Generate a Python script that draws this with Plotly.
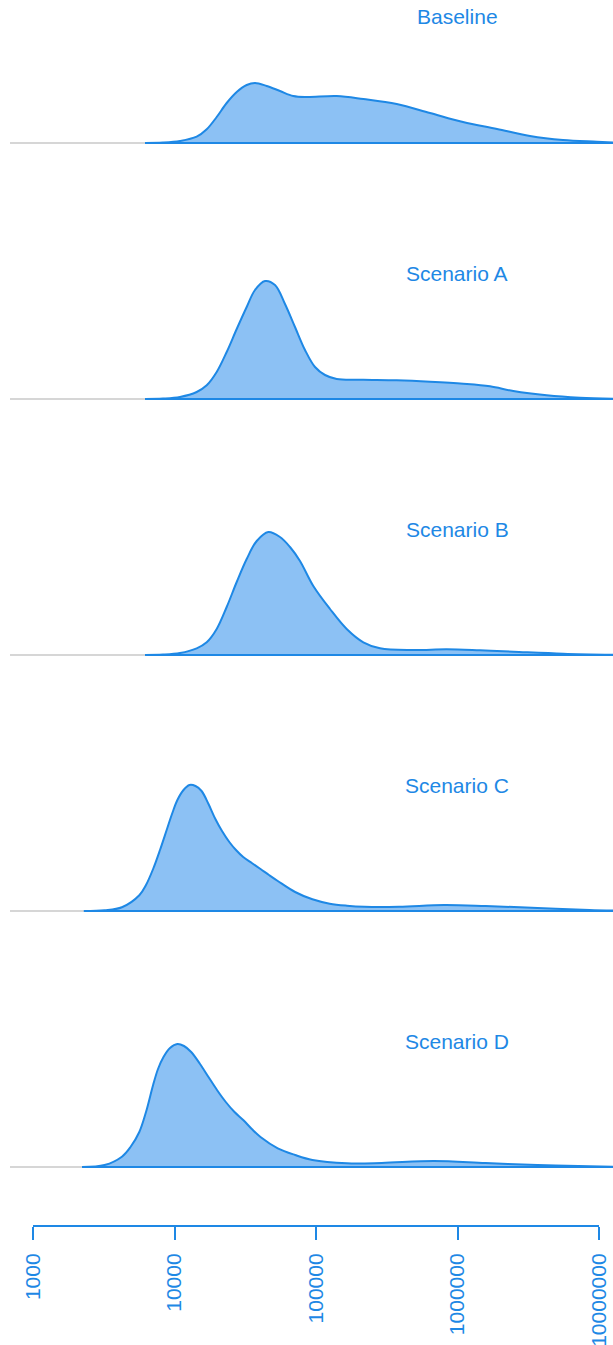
import plotly.graph_objects as go

# Scenario names, top to bottom
scenarios = ["Baseline", "Scenario A", "Scenario B", "Scenario C", "Scenario D"]

# Density curves: x = value (log scale), y = density height
baseline_x = [6190, 8292, 10940, 14350, 16890, 19870, 23380, 27520, 32370, 37060,
              44830, 55660, 69120, 85980, 140100, 216000, 371800, 639200, 1094000,
              1902000, 3253000, 5567000, 9680000, 12560000]
baseline_y = [0.0, 0.004, 0.02, 0.063, 0.137, 0.26, 0.40, 0.51, 0.58, 0.60,
              0.57, 0.52, 0.47, 0.46, 0.47, 0.44, 0.39, 0.30, 0.21,
              0.14, 0.07, 0.03, 0.013, 0.005]

a_x = [6190, 8292, 10940, 14350, 16890, 19870, 23380, 27520, 32370, 37060, 43610,
       51310, 60370, 71040, 83630, 98380, 115800, 140100, 216000, 371800, 639200,
       1099000, 1697000, 2480000, 4270000, 7339000, 12560000]
a_y = [0.0, 0.004, 0.02, 0.07, 0.137, 0.27, 0.47, 0.70, 0.92, 1.09, 1.18,
       1.14, 0.95, 0.72, 0.49, 0.32, 0.24, 0.20, 0.193, 0.187, 0.173,
       0.153, 0.127, 0.08, 0.037, 0.013, 0.003]

b_x = [6190, 8292, 10940, 14350, 16890, 19870, 23380, 27520, 32370, 38110, 46010,
       55660, 65510, 77070, 95700, 125600, 164800, 216000, 283400, 487000, 839000,
       1442000, 2480000, 5594000, 12560000]
b_y = [0.0, 0.004, 0.02, 0.067, 0.127, 0.26, 0.48, 0.73, 0.96, 1.14, 1.23,
       1.18, 1.08, 0.94, 0.69, 0.46, 0.26, 0.127, 0.067, 0.05, 0.057,
       0.047, 0.033, 0.013, 0.003]

c_x = [2289, 3206, 4249, 5640, 6289, 7061, 7898, 8851, 9601, 10480, 11580, 12760,
       14070, 15540, 17390, 19450, 21670, 24400, 27200, 30590, 35180, 40530, 46530,
       53700, 71170, 94310, 125000, 165600, 219800, 386000, 802800, 1580000,
       3676000, 8567000, 12560000]
c_y = [0.0, 0.007, 0.037, 0.157, 0.26, 0.42, 0.61, 0.82, 0.97, 1.11, 1.21, 1.26,
       1.25, 1.20, 1.07, 0.92, 0.80, 0.69, 0.61, 0.54, 0.48, 0.42, 0.36,
       0.30, 0.19, 0.117, 0.073, 0.053, 0.043, 0.043, 0.06, 0.05,
       0.03, 0.01, 0.005]

d_x = [2223, 3206, 4249, 4887, 5640, 6289, 7061, 7645, 8360, 9294, 10480, 11670,
       13120, 15150, 17390, 19970, 23040, 26550, 30590, 35180, 40530, 53700, 71170,
       94310, 165600, 291300, 678100, 1580000, 3676000, 8567000, 12560000]
d_y = [0.0, 0.02, 0.103, 0.20, 0.35, 0.55, 0.82, 0.98, 1.10, 1.19, 1.23, 1.21,
       1.15, 1.03, 0.90, 0.77, 0.65, 0.55, 0.47, 0.38, 0.30, 0.187, 0.12,
       0.07, 0.037, 0.04, 0.06, 0.04, 0.02, 0.007, 0.003]

series = [(baseline_x, baseline_y), (a_x, a_y), (b_x, b_y), (c_x, c_y), (d_x, d_y)]

# Axis ticks
tick_vals = [1000, 10000, 100000, 1000000, 10000000]
tick_text = ["1000", "10000", "100000", "1000000", "10000000"]

W, H = 613, 1345
BLUE = "#1e88e5"
FILL = "#8cc1f4"
GRID = "#d6d6d6"
FONT = "Liberation Sans, Arial, sans-serif"

row_base = [143, 399, 655, 911, 1167]   # pixel row of each zero line
row_h = 130
x_left_px, x_right_px = 10, 613
dec_px, x0_px = 141.5, 33               # pixels per decade, pixel of 10^3
x_range = [3 + (x_left_px - x0_px) / dec_px, 3 + (x_right_px - x0_px) / dec_px]


def py(px):
    return 1 - px / H


fig = go.Figure()
layout = dict(
    width=W, height=H,
    margin=dict(l=0, r=0, t=0, b=0, autoexpand=False),
    paper_bgcolor="white", plot_bgcolor="white",
    showlegend=False,
    font=dict(family=FONT, color=BLUE),
)

annotations = []
for i, (name, (xs, ys)) in enumerate(zip(scenarios, series)):
    n = i + 1
    xa = "x" if n == 1 else f"x{n}"
    ya = "y" if n == 1 else f"y{n}"
    fig.add_trace(go.Scatter(
        x=xs, y=ys, xaxis=xa, yaxis=ya, mode="lines",
        line=dict(color=BLUE, width=2, shape="spline", smoothing=1),
        fill="tozeroy", fillcolor=FILL, hoverinfo="skip",
    ))
    fig.add_trace(go.Scatter(
        x=[xs[0], xs[-1]], y=[0, 0], xaxis=xa, yaxis=ya, mode="lines",
        line=dict(color=BLUE, width=2), hoverinfo="skip",
    ))
    b = row_base[i]
    layout[f"xaxis{'' if n == 1 else n}"] = dict(
        type="log", range=x_range, domain=[x_left_px / W, x_right_px / W],
        anchor=ya, showgrid=False, zeroline=False, showline=False,
        showticklabels=False, ticks="", fixedrange=True, automargin=False,
    )
    layout[f"yaxis{'' if n == 1 else n}"] = dict(
        range=[-0.012, (row_h - 1.2) / 100], domain=[py(b + 1.2), py(b + 1.2 - row_h)],
        anchor=xa, showgrid=False, showticklabels=False, ticks="",
        zeroline=True, zerolinecolor=GRID, zerolinewidth=1.5, showline=False,
        fixedrange=True, automargin=False,
    )
    annotations.append(dict(
        text=name, x=457 / W, y=py(b - 126), xref="paper", yref="paper",
        xanchor="center", yanchor="middle", showarrow=False,
        font=dict(size=21, color=BLUE, family=FONT),
    ))

# Shared value axis at the bottom
fig.add_trace(go.Scatter(
    x=[1000], y=[0], xaxis="x6", yaxis="y6", mode="markers",
    marker=dict(opacity=0), hoverinfo="skip",
))
axis_px = 1225
layout["xaxis6"] = dict(
    type="log", range=[3, 7], domain=[x0_px / W, (x0_px + 4 * dec_px) / W],
    anchor="y6", side="bottom", showgrid=False, zeroline=False,
    showline=True, linecolor=BLUE, linewidth=2,
    ticks="outside", ticklen=13, tickwidth=2, tickcolor=BLUE,
    tickmode="array", tickvals=tick_vals, ticktext=tick_text,
    tickangle=-90, tickfont=dict(size=21, color=BLUE, family=FONT),
    ticklabelstandoff=5, fixedrange=True, automargin=False,
)
layout["yaxis6"] = dict(
    domain=[py(axis_px), py(axis_px - 4)], anchor="x6", visible=False,
    range=[0, 1], fixedrange=True,
)
layout["annotations"] = annotations
fig.update_layout(**layout)

fig.write_html("out.html", config={"displayModeBar": False})
